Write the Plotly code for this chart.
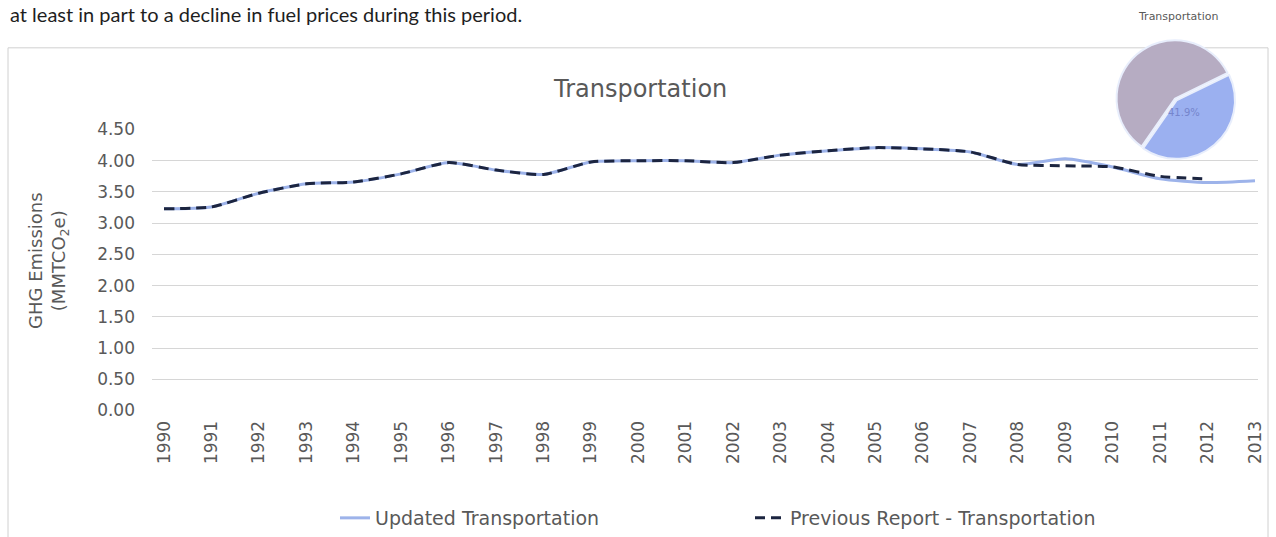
import plotly.graph_objects as go

years = list(range(1990, 2014))
updated = [3.23, 3.26, 3.48, 3.63, 3.66, 3.79, 3.97, 3.85, 3.78, 3.98, 4.00, 4.00,
           3.97, 4.09, 4.16, 4.21, 4.19, 4.14, 3.94, 4.03, 3.90, 3.71, 3.65, 3.68]
prev_years = list(range(1990, 2013))
previous = [3.23, 3.26, 3.48, 3.63, 3.66, 3.79, 3.97, 3.85, 3.78, 3.98, 4.00, 4.00,
            3.97, 4.09, 4.16, 4.21, 4.19, 4.14, 3.94, 3.92, 3.90, 3.75, 3.71]
y_ticks = [0, 0.5, 1.0, 1.5, 2.0, 2.5, 3.0, 3.5, 4.0, 4.5]
pie_labels = ["Transportation", "Other"]
pie_values = [41.9, 58.1]

W, H = 1276, 537
GRAY = "#595959"
FONT = "DejaVu Sans, sans-serif"

def px(x):
    return x / W

def py(y):
    return 1 - y / H

fig = go.Figure()
fig.add_trace(go.Scatter(
    x=years, y=updated, mode="lines", name="Updated Transportation",
    line=dict(color="#9db3ea", width=3, shape="spline", smoothing=0.6),
))
fig.add_trace(go.Scatter(
    x=prev_years, y=previous, mode="lines", name="Previous Report - Transportation",
    line=dict(color="#1c2540", width=3, dash="10px,6px", shape="spline", smoothing=0.6),
))
fig.add_trace(go.Pie(
    labels=pie_labels, values=pie_values, sort=False, direction="clockwise",
    rotation=64, textinfo="none",
    marker=dict(colors=["#9bb0f0", "#b6acc2"], line=dict(color="#e8eefc", width=2)),
    pull=[0.04, 0], showlegend=False, hoverinfo="skip",
    domain=dict(x=[px(1114), px(1236)], y=[py(160), py(38)]),
))

x0 = 1990 - 12 / 47.43
x1 = 2013 + 3 / 47.43
fig.update_layout(
    width=W, height=H, margin=dict(l=0, r=0, t=0, b=0),
    paper_bgcolor="white", plot_bgcolor="white",
    font=dict(family=FONT, color=GRAY),
    xaxis=dict(domain=[px(152), px(1258)], range=[x0, x1], tickmode="array",
               tickvals=years, ticktext=[str(y) for y in years], tickangle=-90,
               showgrid=False, zeroline=False, showline=False, ticks="",
               ticklabelstandoff=6,
               tickfont=dict(size=17, color=GRAY, family=FONT), automargin=False),
    yaxis=dict(domain=[py(412), py(130)], range=[0, 4.5], tickmode="array",
               tickvals=y_ticks, ticktext=[f"{v:.2f}" for v in y_ticks],
               showgrid=True, gridcolor="#d6d6d6", gridwidth=1, zeroline=False,
               showline=False, ticks="", ticklabelstandoff=16,
               tickfont=dict(size=17, color=GRAY, family=FONT), automargin=False),
    legend=dict(orientation="h", x=px(335), y=py(520), xanchor="left", yanchor="middle",
                font=dict(size=19, color=GRAY, family=FONT),
                entrywidth=370, entrywidthmode="pixels", bgcolor="rgba(0,0,0,0)"),
    shapes=[dict(type="rect", xref="paper", yref="paper", x0=px(8), x1=px(1268),
                 y0=py(545), y1=py(48), line=dict(color="#d0d0d0", width=1),
                 layer="below")],
    annotations=[
        dict(text="at least in part to a decline in fuel prices during this period.",
             xref="paper", yref="paper", x=px(8), y=py(14), xanchor="left", yanchor="middle",
             showarrow=False, font=dict(size=20, color="#1e1e1e",
                                        family="Liberation Sans Narrow, Lato, sans-serif")),
        dict(text="Transportation", xref="paper", yref="paper", x=px(640), y=py(89),
             xanchor="center", yanchor="middle", showarrow=False,
             font=dict(size=24, color=GRAY, family=FONT)),
        dict(text="GHG Emissions<br>(MMTCO<sub>2</sub>e)", xref="paper", yref="paper",
             x=px(48), y=py(262), xanchor="center", yanchor="middle", textangle=-90,
             showarrow=False, font=dict(size=18, color=GRAY, family=FONT)),
        dict(text="Transportation", xref="paper", yref="paper", x=px(1178), y=py(17),
             xanchor="center", yanchor="middle", showarrow=False,
             font=dict(size=11, color=GRAY, family=FONT)),
        dict(text="41.9%", xref="paper", yref="paper", x=px(1184), y=py(113),
             xanchor="center", yanchor="middle", showarrow=False,
             font=dict(size=10, color="#7585cc", family=FONT)),
    ],
)

fig.write_html("out.html", config={"displayModeBar": False},
               post_script="document.body.style.margin='0';")
